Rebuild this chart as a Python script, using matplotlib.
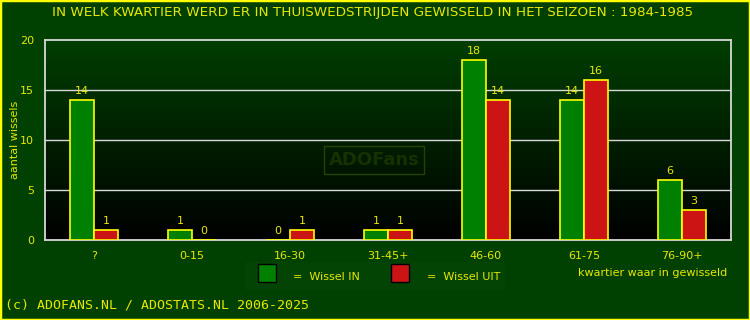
import numpy as np
import matplotlib
matplotlib.use("Agg")
import matplotlib.pyplot as plt
from matplotlib.patches import Rectangle

# data
categories = ["?", "0-15", "16-30", "31-45+", "46-60", "61-75", "76-90+"]
wissel_in = [14, 1, 0, 1, 18, 14, 6]
wissel_uit = [1, 0, 1, 1, 14, 16, 3]
title = "IN WELK KWARTIER WERD ER IN THUISWEDSTRIJDEN GEWISSELD IN HET SEIZOEN : 1984-1985"

BG = "#004000"
YEL = "#e8e800"
GREEN = "#008000"
RED = "#cc1414"
GRID = "#d8d8d8"

W, H = 750, 320
fig = plt.figure(figsize=(W / 100, H / 100), dpi=100, facecolor=BG)

# yellow outer border
fig.patches.append(Rectangle((0, 0), 1, 1, transform=fig.transFigure, fill=False,
                             edgecolor="#ffff00", linewidth=2.5))

# plot area in pixels: x 45..731, y 40..240 (from top)
ax = fig.add_axes([45 / W, 1 - 240 / H, 686 / W, 200 / H])
ax.set_facecolor("black")

# vertical gradient dark green -> black
grad = np.linspace(0, 1, 256).reshape(-1, 1)
cmap = matplotlib.colors.LinearSegmentedColormap.from_list("g", ["#000000", "#003e00"])
ax.imshow(grad, extent=[0, 1, 0, 1], transform=ax.transAxes, cmap=cmap,
          aspect="auto", origin="lower", zorder=0)

x = np.arange(len(categories))
bw = 0.245
ax.bar(x - bw / 2, wissel_in, bw, color=GREEN, edgecolor="#ffff00", linewidth=1.2, zorder=3)
ax.bar(x + bw / 2, wissel_uit, bw, color=RED, edgecolor="#ffff00", linewidth=1.2, zorder=3)

for xi, v in zip(x, wissel_in):
    ax.annotate(str(v), (xi - bw / 2, v), xytext=(0, 3), textcoords="offset points",
                ha="center", va="bottom", color=YEL, fontsize=8, zorder=4)
for xi, v in zip(x, wissel_uit):
    ax.annotate(str(v), (xi + bw / 2, v), xytext=(0, 3), textcoords="offset points",
                ha="center", va="bottom", color=YEL, fontsize=8, zorder=4)

ax.set_xlim(-0.5, len(categories) - 0.5)
ax.set_ylim(0, 20)
ax.set_yticks([0, 5, 10, 15, 20])
ax.set_xticks(x)
ax.set_xticklabels(categories)
ax.tick_params(colors=YEL, labelsize=8, length=0)
ax.tick_params(axis="y", pad=8)
ax.tick_params(axis="x", pad=8)
for y in [5, 10, 15]:
    ax.axhline(y, color=GRID, linewidth=1.0, zorder=1)
for s in ax.spines.values():
    s.set_color(GRID)
    s.set_linewidth(1.3)

ax.set_ylabel("aantal wissels", color=YEL, fontsize=8)
ax.yaxis.set_label_coords(-25 / 686, 0.5)

# watermark
ax.text((374 - 45) / 686, 0.4, "ADOFans", transform=ax.transAxes, ha="center", va="center",
        fontsize=13, fontweight="bold", color="#264200", alpha=0.6, zorder=2,
        bbox=dict(boxstyle="square,pad=0.25", facecolor="none", edgecolor="#264200"))

fig.text(373 / W, 1 - 12.5 / H, title, ha="center", va="center", color=YEL, fontsize=9.7)

# legend
fig.patches.append(Rectangle((245 / W, 1 - 290 / H), 260 / W, 28 / H, transform=fig.transFigure,
                             facecolor="#034303", edgecolor="none"))
fig.patches.append(Rectangle((258 / W, 1 - 282 / H), 18 / W, 18 / H, transform=fig.transFigure,
                             facecolor=GREEN, edgecolor="black", linewidth=1))
fig.text(293 / W, 1 - 277 / H, "=  Wissel IN", ha="left", va="center", color=YEL, fontsize=8)
fig.patches.append(Rectangle((391 / W, 1 - 282 / H), 18 / W, 18 / H, transform=fig.transFigure,
                             facecolor=RED, edgecolor="black", linewidth=1))
fig.text(427 / W, 1 - 277 / H, "=  Wissel UIT", ha="left", va="center", color=YEL, fontsize=8)

fig.text(727 / W, 1 - 273 / H, "kwartier waar in gewisseld", ha="right", va="center",
         color=YEL, fontsize=8)

fig.text(5 / W, 1 - 305 / H, "(c) ADOFANS.NL / ADOSTATS.NL 2006-2025", ha="left", va="center",
         color=YEL, fontsize=9.5, family="DejaVu Sans Mono")

fig.savefig("out.png", dpi=100, facecolor=BG)
